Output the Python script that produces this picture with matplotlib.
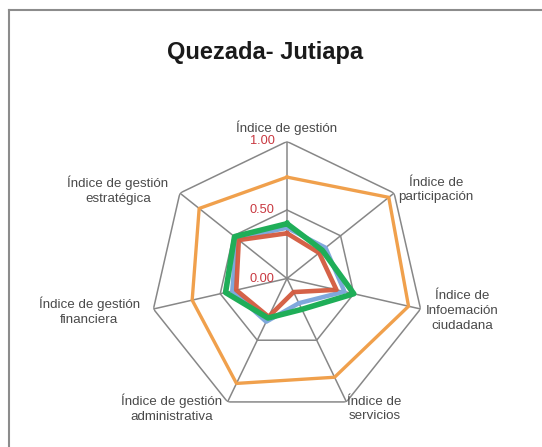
import numpy as np
import matplotlib
matplotlib.use("Agg")
import matplotlib.pyplot as plt
from matplotlib.lines import Line2D

# categories (clockwise from the top)
categorias = [
    "Índice de gestión",
    "Índice de\nparticipación",
    "Índice de\nInfoemación\nciudadana",
    "Índice de\nservicios",
    "Índice de gestión\nadministrativa",
    "Índice de gestión\nfinanciera",
    "Índice de gestión\nestratégica",
]

# series values
serie_naranja = [0.74, 0.95, 0.91, 0.80, 0.85, 0.71, 0.82]
serie_azul = [0.37, 0.36, 0.43, 0.20, 0.35, 0.41, 0.47]
serie_roja = [0.33, 0.30, 0.37, 0.11, 0.31, 0.38, 0.45]
serie_verde = [0.40, 0.33, 0.50, 0.25, 0.32, 0.46, 0.49]

ticks = [0.0, 0.5, 1.0]
tick_labels = ["0.00", "0.50", "1.00"]

W, H = 542, 447
fig = plt.figure(figsize=(W / 100, H / 100), dpi=100)
plt.rcParams["font.family"] = ["Liberation Sans", "DejaVu Sans"]

# frame (only top and left edges are visible in the crop)
fig.add_artist(Line2D([8.5 / W, 1.0], [1 - 10 / H, 1 - 10 / H], color="#8c8c8c", lw=1.5))
fig.add_artist(Line2D([8.5 / W, 8.5 / W], [1 - 10 / H, 0.0], color="#8c8c8c", lw=1.5))

fig.text(265.5 / W, 1 - 53 / H, "Quezada- Jutiapa", ha="center", va="center",
         fontsize=17, fontweight="bold", color="#1a1a1a")

cx, cy, R = 287, 278.5, 137
ax = fig.add_axes([(cx - R) / W, (H - cy - R) / H, 2 * R / W, 2 * R / H], projection="polar")
ax.set_theta_offset(np.pi / 2)
ax.set_theta_direction(-1)
ax.set_ylim(0, 1)
ax.grid(False)
ax.spines["polar"].set_visible(False)
ax.set_xticks([])
ax.set_yticks([])
ax.patch.set_alpha(0)

n = len(categorias)
ang = np.linspace(0, 2 * np.pi, n, endpoint=False)
ang_c = np.append(ang, ang[0])

grid_col = "#878787"
for a in ang:
    ax.plot([a, a], [0, 1], color=grid_col, lw=1.1, zorder=1)
for t in ticks[1:]:
    ax.plot(ang_c, [t] * (n + 1), color=grid_col, lw=1.1, zorder=1)


def cerrar(v):
    return list(v) + [v[0]]


ax.plot(ang_c, cerrar(serie_naranja), color="#f0a04c", lw=2.4, zorder=3)
ax.plot(ang_c, cerrar(serie_azul), color="#7fa8dc", lw=3.2, zorder=4)
ax.plot(ang_c, cerrar(serie_roja), color="#d35a3e", lw=3.3, zorder=5, alpha=0.95)
ax.plot(ang_c, cerrar(serie_verde), color="#1fae58", lw=4.0, zorder=6)

for t, lab in zip(ticks, tick_labels):
    ax.annotate(lab, xy=(0, t), xytext=(-9, 0), textcoords="offset points",
                ha="right", va="center", fontsize=9.2, color="#c8373f",
                annotation_clip=False, zorder=7)

# label offsets (pixels) from each outer vertex
offsets = [(0, 13.5), (42, 3), (42, -2), (28, -7), (-56, -6), (-64, -2), (-62, 3)]
for a, lab, (dx, dy) in zip(ang, categorias, offsets):
    ax.annotate(lab, xy=(a, 1.0), xytext=(dx * 0.72, dy * 0.72), textcoords="offset points",
                ha="center", va="center", fontsize=9.6, color="#4a4a4a",
                linespacing=1.3, annotation_clip=False)

fig.savefig("out.png", dpi=100)
